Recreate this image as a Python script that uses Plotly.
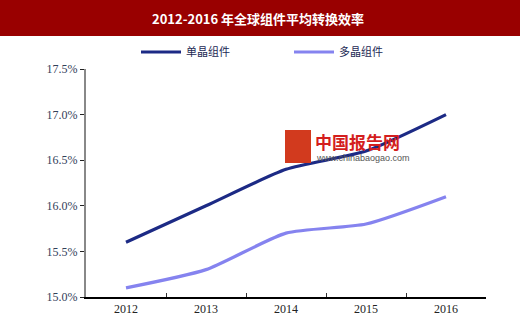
import plotly.graph_objects as go

years = ["2012", "2013", "2014", "2015", "2016"]
mono = [15.6, 16.0, 16.4, 16.6, 17.0]
poly = [15.1, 15.3, 15.7, 15.8, 16.1]
yticks = [15.0, 15.5, 16.0, 16.5, 17.0, 17.5]
ytick_text = ["15.0%", "15.5%", "16.0%", "16.5%", "17.0%", "17.5%"]
title = "2012-2016 年全球组件平均转换效率"
names = ["单晶组件", "多晶组件"]

H = 329
top, bottom = 69, 32
ph = H - top - bottom
L = 86
PW = 400

def py(px):
    return (H - bottom - px) / ph

def pxx(px):
    return (px - L) / PW

fig = go.Figure()
fig.add_trace(go.Scatter(x=years, y=mono, name=names[0], mode="lines",
                         line=dict(color="#1c2a85", width=3.2, shape="spline", smoothing=0.6)))
fig.add_trace(go.Scatter(x=years, y=poly, name=names[1], mode="lines",
                         line=dict(color="#8583ef", width=3.2, shape="spline", smoothing=0.6)))

fig.update_layout(
    width=520, height=H,
    margin=dict(l=L, r=520 - L - PW, t=top, b=bottom),
    paper_bgcolor="white", plot_bgcolor="white",
    showlegend=True,
    legend=dict(orientation="h", x=pxx(136), xanchor="left", y=py(52), yanchor="middle",
                bgcolor="rgba(0,0,0,0)",
                font=dict(family="Noto Sans CJK SC", size=11, color="#1c2a55"),
                itemwidth=40, entrywidth=98, entrywidthmode="pixels"),
    xaxis=dict(type="category", range=[-0.5, 4.5], showline=True, linecolor="black", linewidth=2,
               ticks="inside", tickson="boundaries", ticklen=4, tickcolor="#333", showgrid=False,
               tickfont=dict(family="Liberation Serif", size=12, color="#222")),
    yaxis=dict(range=[15.0, 17.5], tickvals=yticks, ticktext=ytick_text, showline=True,
               linecolor="#888", linewidth=2, ticks="outside", ticklen=4, tickcolor="#222",
               showgrid=False, zeroline=False,
               tickfont=dict(family="Liberation Serif", size=12, color="#33405a")),
    shapes=[dict(type="rect", xref="paper", yref="paper", x0=pxx(0), x1=pxx(520),
                 y0=py(36), y1=py(0), fillcolor="#990000", line=dict(width=0), layer="below"),
            dict(type="rect", xref="paper", yref="paper", x0=pxx(285), x1=pxx(311),
                 y0=py(163), y1=py(130), fillcolor="#d23a1e", line=dict(width=0))],
    annotations=[
        dict(text="<b>" + title + "</b>", xref="paper", yref="paper", x=pxx(258), y=py(18),
             xanchor="center", yanchor="middle", showarrow=False,
             font=dict(family="Noto Sans CJK SC", size=13, color="white")),
        dict(text="<b>中国报告网</b>", xref="paper", yref="paper", x=pxx(313), y=py(141),
             xanchor="left", yanchor="middle", showarrow=False,
             font=dict(family="Noto Sans CJK SC", size=17, color="#d41e1e")),
        dict(text="www.chinabaogao.com", xref="paper", yref="paper", x=pxx(314), y=py(158),
             xanchor="left", yanchor="middle", showarrow=False,
             font=dict(family="Liberation Sans", size=9, color="#555")),
    ],
)
fig.write_html("out.html")
